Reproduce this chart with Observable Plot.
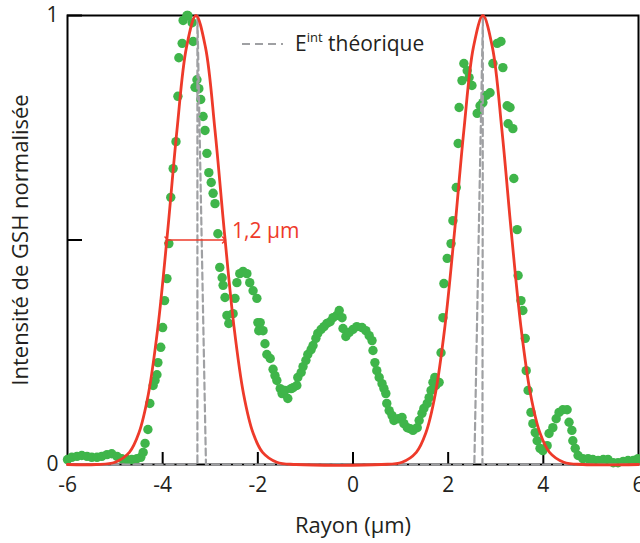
<!DOCTYPE html>
<html><head><meta charset="utf-8">
<script src="https://cdn.jsdelivr.net/npm/d3@7"></script>
<script src="https://cdn.jsdelivr.net/npm/@observablehq/plot@0.6"></script>
<style>
html,body{margin:0;padding:0;background:#fff}
#chart{width:640px;height:543px}
</style>
</head><body><div id="chart"></div>
<script>
// ---------- text ----------
const xLabel = "Rayon (µm)";
const yLabel = "Intensité de GSH normalisée";
const legendMain = "E";
const legendSup = "int";
const legendRest = " théorique";
const fwhmLabel = "1,2 µm";

// ---------- ticks ----------
const xTickLabels = [-6, -4, -2, 0, 2, 4, 6];
const xInnerTicks = [-4, -2, 0, 2, 4];
const yTickLabels = [0, 1];
const yInnerTicks = [0.5, 1];

// ---------- measured GSH intensity (green dots) ----------
const measX = [
  -6.00,-5.91,-5.80,-5.70,-5.59,-5.49,-5.38,-5.28,-5.17,-5.07,-4.96,-4.86,-4.75,-4.65,-4.54,-4.46,
  -4.41,-4.37,-4.31,-4.27,-4.20,-4.16,-4.12,-4.10,-4.04,-4.00,-3.96,-3.91,-3.87,-3.83,-3.78,-3.72,
  -3.68,-3.66,-3.59,-3.57,-3.49,-3.47,-3.38,-3.36,-3.32,-3.28,-3.24,-3.20,-3.15,-3.11,-3.07,-3.03,
  -2.98,-2.94,-2.90,-2.84,-2.80,-2.75,-2.73,-2.69,-2.65,-2.61,-2.52,-2.48,-2.44,-2.38,-2.31,-2.23,
  -2.17,-2.10,-2.02,-2.00,-1.98,
  -1.95,-1.89,-1.85,-1.81,-1.74,-1.68,-1.64,-1.60,-1.53,-1.49,-1.43,-1.37,-1.30,-1.26,-1.18,-1.16,
  -1.09,-1.05,-0.99,-0.95,-0.88,-0.84,-0.78,-0.74,-0.67,-0.61,-0.55,-0.48,-0.42,-0.34,-0.29,-0.23,
  -0.21,-0.15,-0.08,0.00,0.08,0.19,0.27,0.34,0.40,0.42,0.46,0.50,0.55,0.61,0.65,0.69,
  0.71,0.76,0.82,0.86,0.95,1.03,1.07,1.14,1.20,1.26,1.35,1.39,1.45,1.49,1.56,1.60,
  1.64,1.68,1.72,1.74,1.81,1.85,1.89,1.91,1.98,2.06,2.10,2.17,2.21,2.23,2.29,2.33,
  2.40,2.44,2.50,2.61,2.67,2.73,2.80,2.88,2.94,3.03,3.11,3.15,3.24,3.30,3.26,3.36,
  3.38,3.45,3.47,3.53,3.57,3.62,3.64,3.68,3.74,3.78,3.83,3.87,3.93,3.99,4.08,4.12,
  4.20,4.27,4.33,4.41,4.50,4.54,4.60,4.62,4.67,4.73,4.83,4.94,5.04,5.15,5.26,5.36,
  5.47,5.57,5.68,5.78,5.89,5.99
];
const measY = [
  0.011,0.016,0.018,0.020,0.018,0.016,0.016,0.018,0.022,0.024,0.018,0.013,0.011,0.011,0.013,0.016,
  0.027,0.047,0.078,0.136,0.176,0.187,0.200,0.227,0.261,0.305,0.365,0.414,0.492,0.595,0.659,0.719,
  0.820,0.906,0.938,0.989,1.000,1.000,0.984,0.942,0.840,0.857,0.837,0.813,0.775,0.744,0.693,0.650,
  0.628,0.604,0.581,0.514,0.439,0.416,0.399,0.372,0.332,0.314,0.336,0.370,0.405,0.425,0.430,0.425,
  0.405,0.387,0.370,0.316,0.298,
  0.316,0.298,0.269,0.245,0.236,0.212,0.198,0.187,0.169,0.158,0.165,0.147,0.169,0.171,0.176,0.194,
  0.205,0.218,0.232,0.245,0.256,0.265,0.281,0.292,0.301,0.307,0.314,0.318,0.327,0.332,0.343,0.327,
  0.303,0.285,0.294,0.301,0.307,0.305,0.298,0.287,0.276,0.254,0.227,0.209,0.194,0.180,0.169,0.158,
  0.136,0.120,0.109,0.098,0.102,0.105,0.091,0.082,0.080,0.076,0.082,0.098,0.114,0.125,0.136,0.149,
  0.165,0.183,0.194,0.176,0.183,0.249,0.327,0.403,0.459,0.492,0.543,0.617,0.715,0.795,0.855,0.893,
  0.877,0.862,0.844,0.782,0.799,0.806,0.822,0.828,0.893,0.938,0.942,0.884,0.799,0.795,0.759,0.748,
  0.637,0.523,0.421,0.365,0.343,0.281,0.209,0.165,0.116,0.091,0.071,0.053,0.036,0.031,0.042,0.069,
  0.082,0.102,0.116,0.122,0.122,0.094,0.076,0.053,0.036,0.020,0.013,0.013,0.011,0.009,0.011,0.011,
  0.004,0.004,0.007,0.009,0.009,0.013
];

// ---------- fitted profile (red line) ----------
const fitX = [-6,-5.4,-5.0,-4.7,-4.5,-4.3,-4.1,-3.9,-3.7,-3.5,-3.3,-3.1,-2.9,-2.7,-2.5,-2.3,-2.1,-1.9,-1.6,-1.2,
  0.6,1.03,1.33,1.53,1.73,1.93,2.13,2.33,2.53,2.73,2.93,3.13,3.33,3.53,3.73,3.93,4.13,4.43,4.83,6];
const fitY = [0,0.000,0.005,0.027,0.070,0.157,0.306,0.514,0.744,0.929,1.000,0.929,0.744,0.514,0.306,0.157,0.070,0.027,0.005,0.000,
  0.000,0.005,0.027,0.070,0.157,0.306,0.514,0.744,0.929,1.000,0.929,0.744,0.514,0.306,0.157,0.070,0.027,0.005,0.000,0];

// ---------- theoretical E_int (grey dashed) ----------
const eintX = [-6,-3.27,-3.27,-3.09,2.55,2.73,2.72,6];
const eintY = [0,0,1,0,0,1,0,0];

// ---------- FWHM annotation ----------
const fwhmEnds = [-3.92, -2.71];
const fwhmLevel = 0.5;

// ---------- build tables ----------
const meas = measX.map((x, i) => ({x, y: measY[i]}));
const fit = fitX.map((x, i) => ({x, y: fitY[i]}));
const eint = eintX.map((x, i) => ({x, y: eintY[i]}));

const FONT = "'Open Sans', sans-serif";
const GREEN = "#3fb54a";
const RED = "#ee3a2a";
const GREY = "#9fa0a3";
const INK = "#231f20";

function legendMark(index, scales, values, dims) {
  const g = d3.create("svg:g");
  g.append("line").attr("x1", 242).attr("x2", 283).attr("y1", 44).attr("y2", 44)
    .attr("stroke", GREY).attr("stroke-width", 2.2).attr("stroke-dasharray", "8,5");
  const t = g.append("text").attr("x", 295).attr("y", 51).attr("text-anchor", "start")
    .attr("font-family", FONT).attr("font-size", 21).attr("fill", INK);
  t.append("tspan").text(legendMain);
  t.append("tspan").attr("dy", -9).attr("font-size", 13).text(legendSup);
  t.append("tspan").attr("dy", 9).text(legendRest);
  return g.node();
}

const chart = Plot.plot({
  width: 640, height: 543,
  marginLeft: 67, marginRight: 2, marginTop: 15, marginBottom: 79,
  style: {fontFamily: FONT, fontSize: "21px", color: INK, background: "white", overflow: "visible"},
  x: {domain: [-6, 6]},
  y: {domain: [0, 1]},
  marks: [
    Plot.frame({stroke: "#000", strokeWidth: 2}),
    Plot.axisX({ticks: xTickLabels, tickSize: 0, tickPadding: 13, tickFormat: d => String(d),
      label: null, fontSize: 21}),
    Plot.axisX({ticks: [], tickSize: 0, label: xLabel, labelAnchor: "center", labelArrow: "none",
      labelOffset: 68, fontSize: 22}),
    Plot.axisY({ticks: yTickLabels, tickSize: 0, tickPadding: 9, tickFormat: d => String(d),
      label: null, fontSize: 21}),
    Plot.axisY({ticks: [], tickSize: 0, label: yLabel, labelAnchor: "center", labelArrow: "none",
      labelOffset: 55, fontSize: 22}),
    Plot.tickX(xInnerTicks, {x: d => d, insetTop: 437, stroke: "#000", strokeWidth: 2}),
    Plot.tickY(yInnerTicks, {y: d => d, insetRight: 556, stroke: "#000", strokeWidth: 2}),
    Plot.dot(meas, {x: "x", y: "y", r: 4.7, fill: GREEN, stroke: "none"}),
    Plot.line(eint, {x: "x", y: "y", stroke: GREY, strokeWidth: 2.2, strokeDasharray: "7,4"}),
    Plot.line(fit, {x: "x", y: "y", stroke: RED, strokeWidth: 2.8, curve: "catmull-rom"}),
    Plot.link([fwhmEnds], {x1: d => d[0], x2: d => d[1], y1: fwhmLevel, y2: fwhmLevel,
      stroke: RED, strokeWidth: 1.5, markerStart: "arrow", markerEnd: "arrow"}),
    Plot.text([fwhmLabel], {x: fwhmEnds[1], y: fwhmLevel, text: d => d, textAnchor: "start",
      lineAnchor: "bottom", dx: 8, dy: -2, fill: RED, fontSize: 21}),
    legendMark
  ]
});
document.getElementById("chart").appendChild(chart);
</script>
</body></html>
